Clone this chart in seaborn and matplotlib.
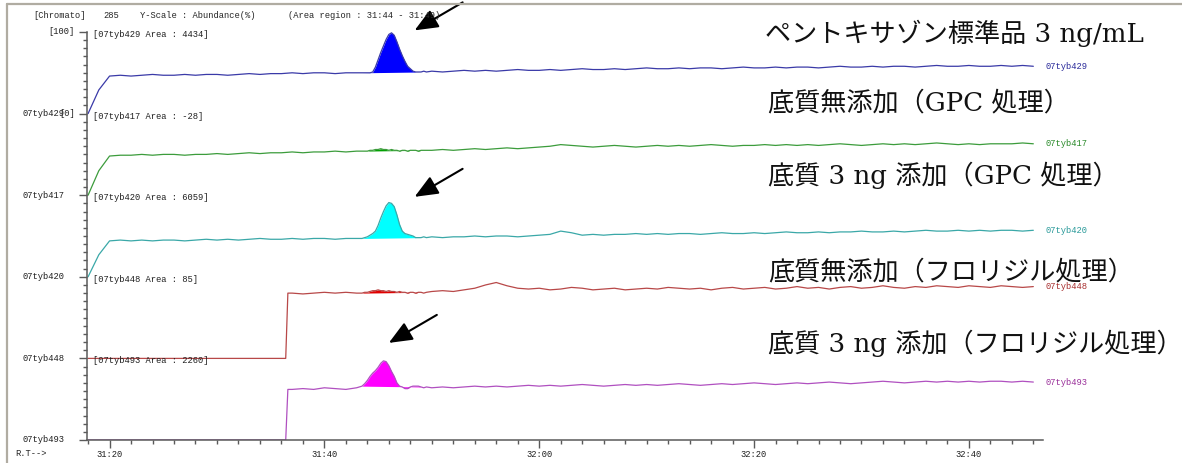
import numpy as np
import matplotlib
matplotlib.use("Agg")
from matplotlib import pyplot as plt
from matplotlib.ticker import MultipleLocator, FixedLocator, NullFormatter
import seaborn as sns

# retention time grids, seconds (31:18 = 1878 s)
rt_a = np.arange(1878, 1904)            # before area region
rt_pk = np.arange(1903.5, 1909.75, 0.25)  # area region, finer sampling
rt_b = np.arange(1910, 1967)            # after area region
step_rt = [1896.4, 1896.6]              # sample injection step for 448 / 493

names = ["07tyb429", "07tyb417", "07tyb420", "07tyb448", "07tyb493"]
areas = ["4434", "-28", "6059", "85", "2260"]
captions = ["ペントキサゾン標準品 3 ng/mL",
            "底質無添加（GPC 処理）",
            "底質 3 ng 添加（GPC 処理）",
            "底質無添加（フロリジル処理）",
            "底質 3 ng 添加（フロリジル処理）"]
xtick_rt = [1880, 1900, 1920, 1940, 1960]
xtick_labels = ["31:20", "31:40", "32:00", "32:20", "32:40"]

# abundance as fraction of each trace band (0..1)
a429 = [0.00, 0.29, 0.46, 0.47, 0.46, 0.47, 0.48, 0.47, 0.47, 0.48, 0.47, 0.48, 0.48,
        0.47, 0.48, 0.49, 0.48, 0.49, 0.49, 0.50, 0.49, 0.50, 0.50, 0.49, 0.50, 0.50]
pk429 = [0.50, 0.50, 0.50, 0.50, 0.51, 0.57, 0.66, 0.75, 0.83, 0.91, 0.97, 0.99, 0.96,
         0.88, 0.79, 0.71, 0.64, 0.58, 0.55, 0.52, 0.51, 0.51, 0.51, 0.52, 0.51]
b429 = [0.52, 0.51, 0.52, 0.53, 0.52, 0.53, 0.52, 0.53, 0.54, 0.53,
        0.53, 0.54, 0.53, 0.54, 0.55, 0.54, 0.54, 0.55, 0.54, 0.55,
        0.56, 0.55, 0.55, 0.56, 0.55, 0.56, 0.56, 0.55, 0.56, 0.57,
        0.56, 0.56, 0.57, 0.56, 0.57, 0.57, 0.56, 0.57, 0.58, 0.57,
        0.57, 0.58, 0.57, 0.58, 0.58, 0.57, 0.58, 0.59, 0.58, 0.58,
        0.59, 0.58, 0.58, 0.59, 0.58, 0.59, 0.58]

a417 = [0.00, 0.30, 0.48, 0.49, 0.49, 0.50, 0.49, 0.50, 0.50, 0.49, 0.50, 0.50, 0.51,
        0.50, 0.51, 0.52, 0.51, 0.52, 0.52, 0.53, 0.52, 0.53, 0.53, 0.54, 0.53, 0.54]
pk417 = [0.54, 0.54, 0.54, 0.55, 0.55, 0.56, 0.56, 0.57, 0.56, 0.56, 0.55, 0.56, 0.55,
         0.55, 0.54, 0.55, 0.55, 0.54, 0.55, 0.55, 0.55, 0.54, 0.55, 0.55, 0.55]
b417 = [0.55, 0.56, 0.55, 0.56, 0.57, 0.56, 0.57, 0.58, 0.57, 0.58,
        0.59, 0.60, 0.62, 0.61, 0.60, 0.59, 0.60, 0.61, 0.60, 0.59,
        0.60, 0.61, 0.60, 0.61, 0.60, 0.61, 0.62, 0.61, 0.60, 0.61,
        0.61, 0.62, 0.61, 0.62, 0.61, 0.62, 0.61, 0.62, 0.63, 0.62,
        0.61, 0.62, 0.63, 0.62, 0.63, 0.62, 0.63, 0.64, 0.63, 0.62,
        0.63, 0.62, 0.63, 0.63, 0.63, 0.64, 0.63]

a420 = [0.00, 0.27, 0.44, 0.45, 0.44, 0.45, 0.44, 0.45, 0.45, 0.44, 0.45, 0.46, 0.45,
        0.46, 0.45, 0.46, 0.47, 0.46, 0.46, 0.47, 0.46, 0.47, 0.47, 0.46, 0.47, 0.47]
pk420 = [0.47, 0.48, 0.49, 0.51, 0.53, 0.56, 0.63, 0.72, 0.80, 0.87, 0.91, 0.90, 0.86,
         0.76, 0.64, 0.56, 0.53, 0.52, 0.51, 0.50, 0.48, 0.48, 0.48, 0.49, 0.48]
b420 = [0.49, 0.48, 0.49, 0.49, 0.50, 0.49, 0.50, 0.50, 0.49, 0.50,
        0.51, 0.52, 0.56, 0.54, 0.51, 0.52, 0.51, 0.52, 0.52, 0.53,
        0.52, 0.53, 0.52, 0.53, 0.53, 0.52, 0.53, 0.54, 0.53, 0.53,
        0.54, 0.53, 0.54, 0.55, 0.54, 0.54, 0.55, 0.54, 0.55, 0.55,
        0.56, 0.55, 0.55, 0.56, 0.55, 0.56, 0.57, 0.56, 0.56, 0.57,
        0.56, 0.57, 0.56, 0.57, 0.57, 0.56, 0.57]

a448 = [0.00] * 19 + [0.80, 0.79, 0.80, 0.81, 0.80, 0.81, 0.80]
step448 = [0.00, 0.80]
pk448 = [0.80, 0.81, 0.81, 0.82, 0.83, 0.83, 0.84, 0.83, 0.83, 0.82, 0.83, 0.82, 0.82,
         0.81, 0.82, 0.81, 0.81, 0.80, 0.81, 0.81, 0.80, 0.81, 0.81, 0.80, 0.81]
b448 = [0.82, 0.83, 0.82, 0.84, 0.86, 0.90, 0.93, 0.89, 0.86, 0.85,
        0.86, 0.84, 0.85, 0.87, 0.86, 0.84, 0.85, 0.86, 0.84, 0.85,
        0.86, 0.85, 0.87, 0.86, 0.85, 0.86, 0.84, 0.86, 0.87, 0.85,
        0.86, 0.87, 0.85, 0.86, 0.88, 0.86, 0.87, 0.85, 0.87, 0.88,
        0.86, 0.87, 0.89, 0.87, 0.86, 0.88, 0.87, 0.89, 0.88, 0.87,
        0.89, 0.88, 0.87, 0.89, 0.88, 0.87, 0.88]

a493 = [0.00] * 19 + [0.62, 0.63, 0.62, 0.64, 0.63, 0.62, 0.64]
step493 = [0.00, 0.62]
pk493 = [0.66, 0.69, 0.73, 0.78, 0.82, 0.85, 0.89, 0.94, 0.97, 0.96, 0.91, 0.84, 0.78,
         0.70, 0.66, 0.65, 0.63, 0.63, 0.65, 0.66, 0.66, 0.66, 0.65, 0.64, 0.65]
b493 = [0.64, 0.65, 0.64, 0.65, 0.66, 0.65, 0.66, 0.65, 0.66, 0.67,
        0.66, 0.67, 0.66, 0.67, 0.68, 0.67, 0.66, 0.67, 0.68, 0.67,
        0.68, 0.67, 0.68, 0.69, 0.68, 0.67, 0.68, 0.69, 0.68, 0.69,
        0.70, 0.69, 0.68, 0.69, 0.70, 0.69, 0.70, 0.71, 0.70, 0.69,
        0.70, 0.71, 0.72, 0.71, 0.70, 0.71, 0.72, 0.71, 0.72, 0.71,
        0.72, 0.71, 0.72, 0.72, 0.71, 0.72, 0.71]

traces = [(a429, pk429, b429, None), (a417, pk417, b417, None),
          (a420, pk420, b420, None), (a448, pk448, b448, step448),
          (a493, pk493, b493, step493)]

line_cols = ["#3a3aa8", "#3c9c3c", "#3aa8a8", "#b84848", "#b050c0"]
fill_cols = ["#0000ff", "#00a000", "#00ffff", "#e00000", "#ff00ff"]
lab_cols = ["#2a2a9a", "#2a8a2a", "#2a9a9a", "#a83030", "#9a309a"]

# arrows pointing at the pentoxazone peaks
arrow_rt = [1908.4, 1908.4, 1906.0]
arrow_lvl = [5.02, 2.98, 1.19]

W, H = 1182, 463
sns.set_style("white")
plt.rcParams["font.family"] = ["DejaVu Sans"]
mono = ["Liberation Mono", "DejaVu Sans Mono"]
jp = ["DejaVu Serif", "Noto Sans CJK JP"]
fs_small = 6.3
grey = "#5a5a5a"

fig = plt.figure(figsize=(W / 100, H / 100), dpi=100)
fig.patch.set_facecolor("white")
ax = fig.add_axes([87 / W, 1 - 440 / H, (1043 - 87) / W, (440 - 32) / H])

def build(a, pk, b, step):
    t = np.concatenate([rt_a, rt_pk, rt_b])
    y = np.concatenate([a, pk, b])
    if step is not None:
        t = np.concatenate([t, step_rt])
        y = np.concatenate([y, step])
    o = np.argsort(t, kind="stable")
    return t[o], y[o]

for k, (a, pk, b, step) in enumerate(traces):
    off = 4 - k
    t, y = build(a, pk, b, step)
    sns.lineplot(x=t, y=y + off, ax=ax, color=line_cols[k], lw=0.9,
                 estimator=None, sort=False)
    # integrated area, between trace and straight baseline
    m = rt_pk <= 1909
    tt = rt_pk[m]
    yy = np.asarray(pk)[m] + off
    base = np.interp(tt, [tt[0], tt[-1]], [yy[0], yy[-1]])
    ax.fill_between(tt, base, yy, color=fill_cols[k], lw=0)
    ax.annotate(names[k], xy=(t[-1], y[-1] + off), xytext=(12, 0),
                textcoords="offset pixels", va="center", ha="left",
                fontsize=fs_small, family=mono, color=lab_cols[k],
                annotation_clip=False)
    ax.text(1878.5, off + 1 - 0.03, "[%s Area : %s]" % (names[k], areas[k]),
            va="center", ha="left", fontsize=fs_small, family=mono, color="#202020")

for xr, lv in zip(arrow_rt, arrow_lvl):
    ax.annotate("", xy=(xr, lv), xytext=(48, 28), textcoords="offset pixels",
                arrowprops=dict(arrowstyle="-|>,head_length=0.95,head_width=0.4",
                                mutation_scale=15, color="black", lw=1.5,
                                shrinkA=0, shrinkB=0),
                annotation_clip=False)

ax.set_xlim(1877.9, 1966.9)
ax.set_ylim(0, 5)
ax.set_xlabel("")
ax.set_ylabel("")
for s in ["top", "right"]:
    ax.spines[s].set_visible(False)
for s in ["left", "bottom"]:
    ax.spines[s].set_color(grey)
    ax.spines[s].set_linewidth(1.1)

ax.xaxis.set_major_locator(FixedLocator(xtick_rt))
ax.set_xticklabels(xtick_labels, family=mono, fontsize=fs_small, color="#202020")
ax.xaxis.set_minor_locator(MultipleLocator(2))
ax.yaxis.set_major_locator(MultipleLocator(1))
ax.yaxis.set_minor_locator(MultipleLocator(0.1))
ax.yaxis.set_major_formatter(NullFormatter())
ax.tick_params(axis="x", which="major", length=6, width=1, color=grey, pad=1.5,
               bottom=True)
ax.tick_params(axis="x", which="minor", length=3, width=1, color=grey, bottom=True)
ax.tick_params(axis="y", which="major", length=6, width=1, color=grey, left=True)
ax.tick_params(axis="y", which="minor", length=3, width=1, color=grey, left=True)

# y labels: trace names at the band bottoms, scale markers on the right
tr = ax.get_yaxis_transform()
for k in range(5):
    ax.text(-65 / (1043 - 87), 4 - k, names[k], transform=tr, ha="left", va="center",
            fontsize=fs_small, family=mono, color="#202020", clip_on=False)
ax.text(-12 / (1043 - 87), 5, "[100]", transform=tr, ha="right", va="center",
        fontsize=fs_small, family=mono, color="#202020", clip_on=False)
ax.text(-12 / (1043 - 87), 4, "[0]", transform=tr, ha="right", va="center",
        fontsize=fs_small, family=mono, color="#202020", clip_on=False)

# header and frame
def fx(x):
    return x / W

def fy(y):
    return 1 - y / H

fig.text(fx(33), fy(15), "[Chromato]", va="center", fontsize=fs_small, family=mono)
fig.text(fx(103), fy(15), "285", va="center", fontsize=fs_small, family=mono)
fig.text(fx(140), fy(15), "Y-Scale : Abundance(%)", va="center", fontsize=fs_small, family=mono)
fig.text(fx(288), fy(15), "(Area region : 31:44 - 31:49)", va="center",
         fontsize=fs_small, family=mono)
fig.text(fx(15), fy(453), "R.T-->", va="center", fontsize=fs_small, family=mono)
fig.add_artist(plt.Line2D([fx(7), fx(7)], [0, fy(4)], transform=fig.transFigure,
                          color="#b0aca2", lw=1.6))
fig.add_artist(plt.Line2D([fx(7), 1], [fy(4), fy(4)], transform=fig.transFigure,
                          color="#b0aca2", lw=1.6))

# Japanese captions
cap_x = [765, 768, 768, 768, 768]
cap_y = [33, 103, 175, 272, 343]
for cx, cy, c in zip(cap_x, cap_y, captions):
    fig.text(fx(cx), fy(cy), c, va="center", ha="left", fontsize=18.8, family=jp,
             color="#111111")

fig.savefig("out.png", dpi=100)
